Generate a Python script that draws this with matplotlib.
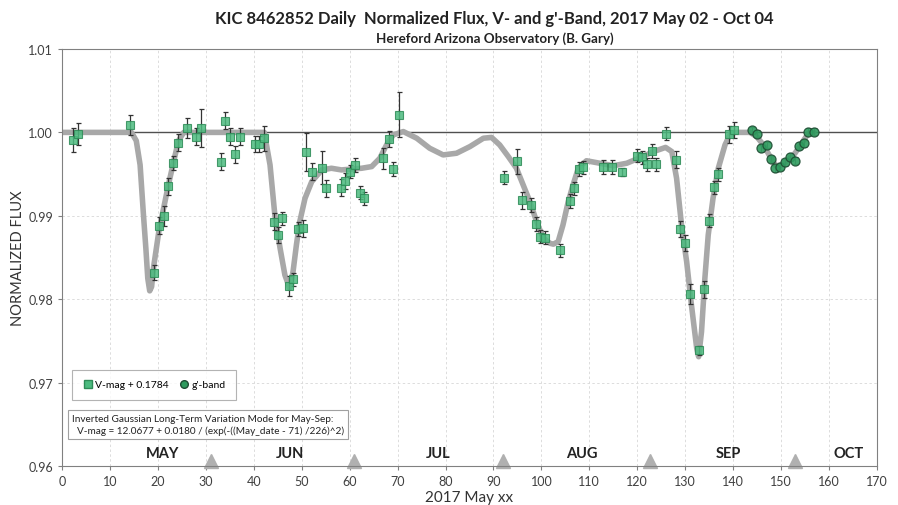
import matplotlib
matplotlib.use("Agg")
import matplotlib.pyplot as plt
from matplotlib.lines import Line2D

plt.rcParams['font.family'] = ['Lato', 'DejaVu Sans']

# ---- data ----
v_day = [2.3, 3.3, 14.2, 19.3, 20.2, 21.3, 22.2, 23.2, 24.2, 26.1, 28.0, 29.1,
         33.2, 34.1, 35.1, 36.1, 37.2, 40.2, 41.2, 42.1, 44.3, 45.1, 46.0, 47.3,
         48.2, 49.2, 50.2, 51.0, 52.2, 54.2, 55.0, 58.1, 59.0, 60.1, 61.1, 62.1,
         63.0, 66.9, 68.2, 69.1, 70.3, 92.1, 95.0, 96.0, 97.9, 98.9, 99.8, 100.8,
         103.9, 105.9, 106.8, 107.8, 108.7, 112.8, 114.8, 116.9, 120.0, 121.0,
         122.0, 123.0, 124.0, 126.0, 128.1, 129.0, 129.9, 131.0, 132.8, 133.9,
         135.0, 136.0, 136.8, 139.2, 140.1]
v_flux = [0.99908, 0.9998, 1.0009, 0.9832, 0.9888, 0.9900, 0.99353, 0.99632,
          0.99876, 1.00056, 0.99948, 1.00056, 0.99649, 1.0014, 0.9995, 0.99736,
          0.9995, 0.9986, 0.9986, 0.99932, 0.98929, 0.98769, 0.98969, 0.98157,
          0.98237, 0.98841, 0.98849, 0.99768, 0.99529, 0.99577, 0.99329, 0.99337,
          0.99417, 0.99529, 0.99608, 0.99277, 0.99209, 0.99688, 0.9992, 0.9956,
          1.00212, 0.99457, 0.99656, 0.99185, 0.99129, 0.98901, 0.9875, 0.98737,
          0.98587, 0.99177, 0.99329, 0.9956, 0.9958, 0.99584, 0.99584, 0.99529,
          0.9972, 0.9970, 0.99616, 0.99776, 0.99616, 0.99984, 0.99672, 0.98841,
          0.98673, 0.98061, 0.97386, 0.98117, 0.98941, 0.9934, 0.99496, 0.99976,
          1.00028]
v_err = [0.0014, 0.0013, 0.0012, 0.0009, 0.0010, 0.0012, 0.0010, 0.0008,
         0.0010, 0.0012, 0.0010, 0.0023, 0.0010, 0.0010, 0.0010, 0.0010,
         0.0010, 0.0010, 0.0010, 0.0015, 0.0010, 0.0010, 0.0008, 0.0012,
         0.0008, 0.0008, 0.0010, 0.0023, 0.0010, 0.0020, 0.0010, 0.0010,
         0.0010, 0.0008, 0.0008, 0.0008, 0.0008, 0.0013, 0.0010, 0.0008,
         0.0027, 0.0008, 0.0015, 0.0010, 0.0008, 0.0008, 0.0008, 0.0008,
         0.0008, 0.0008, 0.0008, 0.0008, 0.0008, 0.0008, 0.0008, 0.0005,
         0.0008, 0.0008, 0.0008, 0.0008, 0.0008, 0.0008, 0.0010, 0.0010,
         0.0010, 0.0012, 0.0005, 0.0010, 0.0008, 0.0008, 0.0008, 0.0010,
         0.0010]

g_day = [143.9, 145.0, 145.8, 147.0, 147.9, 148.8, 149.7, 150.8, 151.9, 152.9,
         153.8, 154.8, 155.6, 156.8]
g_flux = [1.00028, 0.99984, 0.99808, 0.99848, 0.9968, 0.99568, 0.99588, 0.9964,
          0.99708, 0.9966, 0.9984, 0.99868, 1.00008, 1.00008]
g_err = [0.0004] * len(g_day)

model_day = [0.0, 14.5, 15.5, 16.3, 17.0, 17.5, 17.9, 18.3, 18.7, 19.1, 20.2,
             21.2, 22.2, 23.3, 24.3, 25.4, 42.2, 43.4, 44.4, 45.5, 46.5, 47.5,
             48.2, 48.9, 49.6, 50.7, 52.1, 54.2, 56.2, 58.3, 60.4, 62.5, 64.6,
             66.3, 67.7, 69.1, 71.2, 74.0, 76.7, 79.5, 82.3, 85.1, 87.9, 89.6,
             91.3, 93.1, 94.8, 96.2, 97.6, 99.0, 100.4, 101.8, 102.5, 103.5,
             104.5, 105.6, 106.6, 107.7, 109.4, 112.2, 115.0, 117.8, 120.7,
             123.4, 125.9, 127.2, 128.2, 129.3, 130.3, 131.3, 132.4, 132.8,
             133.4, 134.1, 134.8, 135.8, 136.9, 138.3, 139.3, 140.4, 143.5,
             144.9, 146.3, 147.7, 148.9, 150.1, 151.5, 152.9, 154.3, 155.7, 156.8]
model_flux = [1.0, 1.0, 0.9990, 0.9961, 0.9901, 0.9861, 0.9825, 0.9810, 0.9815,
              0.9838, 0.9881, 0.9909, 0.9937, 0.9965, 0.9990, 1.0, 1.0, 0.9961,
              0.9901, 0.9861, 0.9829, 0.9813, 0.9833, 0.9865, 0.9893, 0.9921,
              0.9941, 0.9955, 0.9957, 0.9955, 0.9956, 0.9957, 0.9959, 0.9969,
              0.9985, 0.9997, 1.0001, 0.9993, 0.9981, 0.9973, 0.9975, 0.9983,
              0.9993, 0.9994, 0.9985, 0.9971, 0.9957, 0.9937, 0.9917, 0.9893,
              0.9873, 0.9867, 0.9866, 0.9869, 0.9889, 0.9917, 0.9937, 0.9957,
              0.9966, 0.9963, 0.9960, 0.9963, 0.9970, 0.9977, 0.9982, 0.9977,
              0.9945, 0.9885, 0.9845, 0.9793, 0.9741, 0.9731, 0.9761, 0.9825,
              0.9877, 0.9921, 0.9957, 0.9985, 0.9997, 1.0, 1.0, 0.9995, 0.9985,
              0.9971, 0.9960, 0.9961, 0.9967, 0.9975, 0.9987, 0.9999, 1.0]

months = ["MAY", "JUN", "JUL", "AUG", "SEP", "OCT"]
month_label_day = [21, 47.5, 78.5, 108.5, 139, 164]
month_start_day = [31, 61, 92, 122.6, 153]

title = "KIC 8462852 Daily  Normalized Flux, V- and g'-Band, 2017 May 02 - Oct 04"
subtitle = "Hereford Arizona Observatory (B. Gary)"
note = ("Inverted Gaussian Long-Term Variation Mode for May-Sep:\n"
        "  V-mag = 12.0677 + 0.0180 / (exp(-((May_date - 71) /226)^2)")

# ---- figure ----
fig = plt.figure(figsize=(8.98, 5.06), dpi=100)
ax = fig.add_axes([0.069, 0.0771, 0.9076, 0.8241])

ax.set_xlim(0, 170)
ax.set_ylim(0.96, 1.01)
ax.set_xticks(range(0, 171, 10))
ax.set_yticks([0.96, 0.97, 0.98, 0.99, 1.00, 1.01])
ax.set_yticklabels(["0.96", "0.97", "0.98", "0.99", "1.00", "1.01"])

for x in range(10, 170, 10):
    ax.axvline(x, color='#dcdcdc', lw=0.7, ls=(0, (2.5, 2.5)), zorder=0)
for y in [0.97, 0.98, 0.99]:
    ax.axhline(y, color='#dcdcdc', lw=0.7, ls=(0, (2.5, 2.5)), zorder=0)
ax.axhline(1.0, color='#505050', lw=1.0, zorder=1)

ax.plot(model_day, model_flux, color='#a8a8a8', lw=4.0, solid_capstyle='round',
        solid_joinstyle='round', zorder=2)

ax.errorbar(v_day, v_flux, yerr=v_err, fmt='none', ecolor='#333333',
            elinewidth=0.9, capsize=1.8, capthick=0.9, zorder=3)
ax.plot(v_day, v_flux, 's', ms=5.8, mfc='#4cbb7f', mec='#2e8b57', mew=0.8,
        alpha=0.85, zorder=4)
ax.errorbar(g_day, g_flux, yerr=g_err, fmt='none', ecolor='#777777',
            elinewidth=0.8, capsize=1.8, capthick=0.8, zorder=3)
ax.plot(g_day, g_flux, 'o', ms=6.5, mfc='#2e9b5e', mec='#1e4d33', mew=0.9,
        alpha=0.9, zorder=4)

for m, d in zip(months, month_label_day):
    ax.text(d, 0.9615, m, ha='center', va='center', fontsize=10.5,
            fontweight='bold', color='#222222')
ax.plot(month_start_day, [0.9606] * len(month_start_day), '^', ms=10,
        color='#b0b0b0', clip_on=False, zorder=2)

for s in ax.spines.values():
    s.set_color('#808080')
ax.tick_params(colors='#404040', labelsize=9, length=3, color='#808080')

ax.set_xlabel("2017 May xx", fontsize=11, color='#333333', labelpad=2)
ax.set_ylabel("NORMALIZED FLUX", fontsize=10.5, color='#333333', labelpad=2)

fig.text(0.551, 0.962, title, ha='center', va='center', fontsize=12,
         fontweight='bold', color='#222222')
fig.text(0.551, 0.924, subtitle, ha='center', va='center', fontsize=9.6,
         fontweight='bold', color='#222222')

handles = [Line2D([], [], marker='s', ls='none', ms=5.5, mfc='#4cbb7f', mec='#2e8b57'),
           Line2D([], [], marker='o', ls='none', ms=5.5, mfc='#2e9b5e', mec='#1e4d33')]
leg = ax.legend(handles, ["V-mag + 0.1784", "g'-band"], ncol=2,
                loc='lower left', bbox_to_anchor=(0.006, 0.146),
                fontsize=7.5, frameon=True, fancybox=False, edgecolor='#a0a0a0',
                handletextpad=0.2, columnspacing=1.0, borderpad=1.0,
                handlelength=1.0)
leg.get_frame().set_linewidth(0.8)

ax.text(0.012, 0.10, note, transform=ax.transAxes, ha='left', va='center',
        fontsize=7.2, color='#222222', linespacing=1.4,
        bbox=dict(boxstyle='square,pad=0.4', fc='white', ec='#a0a0a0', lw=0.8))

fig.savefig("out.png", dpi=100)
